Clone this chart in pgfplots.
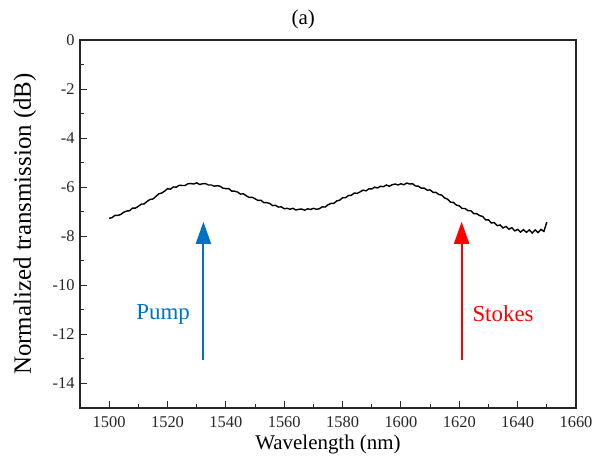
\documentclass[border=0pt]{standalone}
\usepackage{fontspec}
\setmainfont{Liberation Serif}
\usepackage{pgfplots}
\pgfplotsset{compat=1.18}
\usetikzlibrary{arrows.meta}

\definecolor{pumpblue}{RGB}{0,114,198}
\definecolor{stokesred}{RGB}{255,0,0}

\pgfplotstableread{
wl trans
1500 -7.27
1501 -7.24
1502 -7.15
1503 -7.15
1504 -7.11
1505 -7.02
1506 -6.97
1507 -6.96
1508 -6.85
1509 -6.85
1510 -6.78
1511 -6.69
1512 -6.68
1513 -6.58
1514 -6.50
1515 -6.48
1516 -6.38
1517 -6.27
1518 -6.24
1519 -6.16
1520 -6.06
1521 -6.08
1522 -5.99
1523 -6.00
1524 -5.92
1525 -5.93
1526 -5.93
1527 -5.86
1528 -5.85
1529 -5.87
1530 -5.82
1531 -5.89
1532 -5.86
1533 -5.85
1534 -5.91
1535 -5.91
1536 -5.96
1537 -5.94
1538 -5.96
1539 -6.04
1540 -6.06
1541 -6.06
1542 -6.16
1543 -6.16
1544 -6.20
1545 -6.28
1546 -6.27
1547 -6.35
1548 -6.42
1549 -6.41
1550 -6.47
1551 -6.54
1552 -6.53
1553 -6.63
1554 -6.63
1555 -6.66
1556 -6.75
1557 -6.74
1558 -6.81
1559 -6.80
1560 -6.88
1561 -6.86
1562 -6.90
1563 -6.86
1564 -6.93
1565 -6.90
1566 -6.89
1567 -6.94
1568 -6.88
1569 -6.91
1570 -6.86
1571 -6.90
1572 -6.88
1573 -6.80
1574 -6.81
1575 -6.72
1576 -6.66
1577 -6.66
1578 -6.56
1579 -6.53
1580 -6.43
1581 -6.43
1582 -6.34
1583 -6.33
1584 -6.24
1585 -6.25
1586 -6.19
1587 -6.12
1588 -6.15
1589 -6.07
1590 -6.07
1591 -6.00
1592 -6.03
1593 -5.96
1594 -5.98
1595 -5.91
1596 -5.96
1597 -5.90
1598 -5.87
1599 -5.91
1600 -5.86
1601 -5.90
1602 -5.83
1603 -5.87
1604 -5.86
1605 -5.95
1606 -5.96
1607 -6.04
1608 -6.04
1609 -6.12
1610 -6.11
1611 -6.21
1612 -6.21
1613 -6.30
1614 -6.32
1615 -6.44
1616 -6.49
1617 -6.61
1618 -6.62
1619 -6.73
1620 -6.76
1621 -6.87
1622 -6.87
1623 -6.96
1624 -6.96
1625 -7.08
1626 -7.08
1627 -7.16
1628 -7.19
1629 -7.33
1630 -7.33
1631 -7.46
1632 -7.44
1633 -7.57
1634 -7.54
1635 -7.66
1636 -7.60
1637 -7.71
1638 -7.65
1639 -7.78
1640 -7.72
1641 -7.83
1642 -7.73
1643 -7.84
1644 -7.74
1645 -7.87
1646 -7.74
1647 -7.85
1648 -7.72
1649 -7.80
1650 -7.42
}\spectrum

\begin{document}
\begin{tikzpicture}
\begin{axis}[
    at={(0,0)}, anchor=south west,
    width=496bp, height=368bp, scale only axis,
    xmin=1490, xmax=1660, ymin=-15, ymax=0,
    xtick={1500,1520,...,1660}, ytick={-14,-12,...,0},
    minor x tick num=1, minor y tick num=1,
    tick align=inside, tick pos=left,
    major tick length=7bp, minor tick length=4bp,
    every tick/.style={black!85, line width=1.1bp},
    axis line style={black!85, line width=1.3bp},
    /pgf/number format/assume math mode=true,
    /pgf/number format/1000 sep={},
    tick label style={font=\fontsize{16.5}{18}\selectfont, black!85},
    xticklabel style={yshift=-5bp},
    yticklabel style={xshift=-2bp},
    xlabel={Wavelength (nm)},
    ylabel={Normalized transmission (dB)},
    xlabel style={font=\fontsize{21}{24}\selectfont, at={(axis description cs:0.5,-0.1)}, anchor=center},
    ylabel style={font=\fontsize{25}{28}\selectfont, at={(axis description cs:-0.111,0.5)}, anchor=center, rotate=0},
    clip=false]
  \addplot[black, line width=1.4bp] table[x=wl, y=trans] {\spectrum};
  \addplot[pumpblue, line width=2bp, -{Triangle[width=15bp,length=22bp]}]
    coordinates {(1532.3,-13.05) (1532.3,-7.41)};
  \addplot[stokesred, line width=2bp, -{Triangle[width=15bp,length=22bp]}]
    coordinates {(1620.8,-13.05) (1620.8,-7.41)};
  \node[pumpblue, font=\fontsize{23}{26}\selectfont] at (axis cs:1518.5,-11.17) {Pump};
  \node[stokesred, font=\fontsize{23}{26}\selectfont] at (axis cs:1635,-11.17) {Stokes};
  \node[font=\fontsize{21}{24}\selectfont] at (axis description cs:0.45,1.0557) {(a)};
\end{axis}
\pgfresetboundingbox
\path[use as bounding box] (-80bp,-55bp) rectangle (514bp,408bp);
\end{tikzpicture}
\end{document}
